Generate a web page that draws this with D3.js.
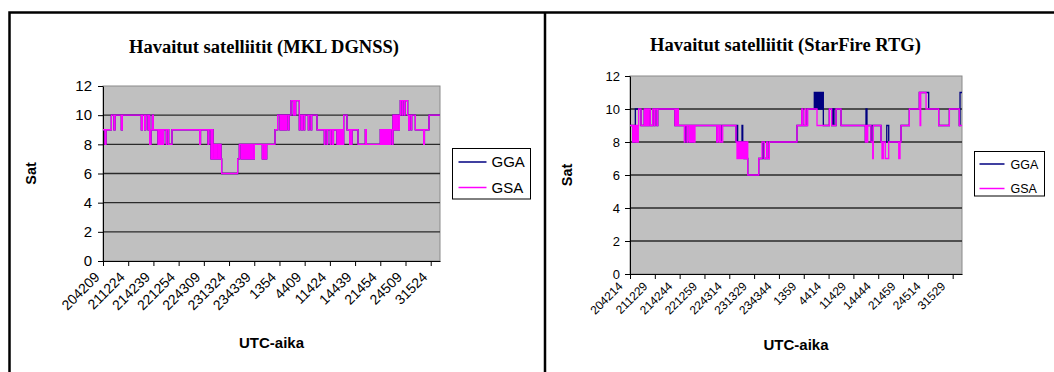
<!DOCTYPE html>
<html><head><meta charset="utf-8">
<script src="https://cdn.jsdelivr.net/npm/d3@7"></script>
<style>body{margin:0;background:#fff;overflow:hidden} svg{display:block}</style>
</head><body>
<svg id="c" width="1054" height="372"></svg>
<script>
// ---------- DATA ----------
const leftTitle = "Havaitut satelliitit (MKL DGNSS)";
const rightTitle = "Havaitut satelliitit (StarFire RTG)";
const yTitle = "Sat";
const xTitle = "UTC-aika";
const seriesNames = ["GGA", "GSA"];
const yTicks = [0, 2, 4, 6, 8, 10, 12];

const leftLabels = ["204209","211224","214239","221254","224309","231324","234339","1354","4409","11424","14439","21454","24509","31524"];
const rightLabels = ["204214","211229","214244","221259","224314","231329","234344","1359","4414","11429","14444","21459","24514","31529"];

// [minutes since first label, satellites]
const leftGsa = [[0,9],[2.4,8],[3.6,9],[10.0,10],[13.2,9],[14.4,10],[22.0,9],[23.2,10],[46.0,9],[47.2,10],[50.0,9],[51.2,10],[54.0,9],[55.2,10],[56.0,8],[57.6,9],[59.2,10],[60.4,9],[66.0,8],[67.0,9],[67.9,8],[68.9,9],[69.8,8],[70.8,9],[71.8,8],[72.7,9],[76.0,8],[76.8,9],[78.8,8],[82.8,9],[116.0,8],[117.0,9],[126.0,8],[127.0,9],[129.6,7],[130.8,9],[132.0,7],[133.6,8],[134.4,7],[135.6,8],[136.4,7],[138.0,8],[139.2,7],[140.4,8],[141.6,7],[142.4,6],[161.6,7],[163.6,8],[165.6,7],[167.0,8],[168.5,7],[169.9,8],[171.4,7],[172.8,8],[174.2,7],[175.7,8],[177.1,7],[178.6,8],[180.0,7],[181.6,8],[191.2,7],[192.0,8],[193.6,7],[194.4,8],[195.6,7],[196.4,8],[206.4,9],[209.6,10],[212.4,9],[213.6,10],[214.8,9],[216.0,10],[217.2,9],[218.4,10],[219.6,9],[220.4,10],[222.4,9],[223.2,10],[225.6,11],[228.4,10],[229.2,11],[230.4,10],[231.2,11],[235.6,9],[236.4,10],[238.4,9],[239.3,10],[241.2,9],[242.0,10],[246.4,9],[247.2,10],[249.6,9],[250.4,10],[256.8,9],[265.6,8],[266.4,9],[268.8,8],[269.6,9],[272.8,8],[273.6,9],[275.6,8],[276.5,9],[280.8,8],[282.0,9],[283.2,8],[284.4,9],[285.6,8],[286.8,9],[288.0,8],[288.8,10],[292.8,9],[296.0,8],[296.9,9],[298.0,8],[298.8,9],[306.0,8],[314.8,9],[316.0,8],[332.8,9],[334.0,8],[335.2,9],[336.4,8],[337.6,9],[338.8,8],[340.0,9],[341.2,8],[342.4,9],[343.6,8],[344.8,9],[346.8,8],[348.0,10],[349.2,9],[350.4,10],[351.6,9],[352.8,10],[354.0,9],[355.6,10],[356.8,11],[358.8,10],[359.6,11],[361.6,10],[362.4,11],[365.6,10],[366.8,9],[367.7,10],[369.6,9],[370.4,10],[374.8,9],[384.8,8],[385.7,9],[391.2,10],[404.4,10]];
const leftGga = leftGsa; // identical in the reference (hidden under GSA)

const rightGsa = [[0,9],[3.3,8],[4.3,9],[5.2,8],[6.2,9],[7.2,8],[8.2,9],[9.1,8],[10.1,9],[10.6,10],[13.4,9],[17.4,10],[18.3,9],[19.3,10],[20.2,9],[21.2,10],[22.2,9],[23.0,10],[24.7,9],[27.7,10],[29.6,9],[30.5,10],[32.9,9],[33.8,10],[54.8,9],[55.8,10],[56.8,9],[57.8,10],[58.9,9],[66.2,8],[67.0,9],[69.5,8],[70.3,9],[72.3,8],[73.3,9],[74.2,8],[75.2,9],[76.2,8],[77.2,9],[78.4,8],[79.2,9],[105.7,8],[106.6,9],[108.5,8],[109.4,9],[110.9,8],[113.0,9],[129.2,8],[130.4,7],[131.4,8],[132.4,7],[133.3,8],[134.3,7],[135.3,8],[136.3,7],[137.2,8],[138.2,7],[139.2,8],[140.2,7],[141.1,8],[142.1,7],[143.1,8],[143.5,6],[156.9,7],[160.9,8],[163.7,7],[166.6,8],[167.6,7],[169.8,8],[203.5,9],[209.3,10],[210.5,9],[213.3,10],[214.5,9],[216.6,10],[227.9,9],[242.9,10],[245.8,9],[251.1,10],[257.2,9],[286.8,8],[287.6,9],[288.8,8],[289.7,9],[293.7,8],[295.8,7],[296.5,9],[305.9,8],[307.1,7],[308.7,8],[311.1,7],[315.3,8],[327.5,7],[329.1,8],[330.3,9],[340.4,10],[352.6,11],[353.5,9],[354.3,11],[360.8,10],[376.2,9],[389.2,10],[401.3,9],[404.6,9]];
const rightGga = [[0,9],[3.3,8],[4.3,9],[5.2,8],[6.5,10],[13.4,9],[17.4,10],[18.3,9],[19.3,10],[20.2,9],[21.2,10],[22.2,9],[23.0,10],[24.7,9],[27.7,10],[29.6,9],[30.5,10],[32.9,9],[33.8,10],[54.8,9],[55.8,10],[56.8,9],[57.8,10],[58.9,9],[67.4,8],[68.3,9],[72.3,8],[73.3,9],[74.2,8],[75.2,9],[76.2,8],[77.2,9],[105.7,8],[106.6,9],[110.5,8],[111.4,9],[129.2,8],[130.4,9],[131.2,8],[136.5,9],[137.4,8],[139.0,7],[140.2,8],[141.4,7],[143.5,6],[156.9,7],[161.8,8],[163.7,7],[166.6,8],[167.6,7],[169.8,8],[203.5,9],[209.3,10],[210.5,9],[215.7,10],[224.6,11],[225.6,10],[226.6,11],[227.6,10],[228.5,11],[229.5,10],[230.5,11],[231.5,10],[232.4,11],[233.4,10],[234.4,11],[235.6,9],[242.9,10],[245.8,9],[247.4,10],[248.6,9],[251.1,10],[257.2,9],[286.8,8],[287.6,10],[288.8,9],[293.7,8],[294.9,9],[305.9,8],[312.9,9],[315.3,8],[330.3,9],[340.4,10],[352.6,11],[364.0,10],[376.2,9],[389.2,10],[401.3,9],[402.2,11],[404.6,11]];

// ---------- HELPERS ----------
function labelMinutes(labels) {
  const secs = labels.map(s => {
    const p = s.padStart(6, "0");
    return (+p.slice(0,2))*3600 + (+p.slice(2,4))*60 + (+p.slice(4,6));
  });
  return secs.map(s => ((s - secs[0] + 86400) % 86400) / 60);
}

const svg = d3.select("#c");
const FONT = "'Liberation Sans', Arial, sans-serif";
const SERIF = "'Liberation Serif', 'Times New Roman', serif";

// outer frames
svg.append("path")
  .attr("d", "M9.5,380V12.5H1060M545,12.5V380")
  .attr("fill", "none").attr("stroke", "#000").attr("stroke-width", 2.5);

function chart(o) {
  const g = svg.append("g");
  const end = o.gsa[o.gsa.length - 1][0];
  const x = d3.scaleLinear().domain([0, end]).range([o.left, o.right]);
  const y = d3.scaleLinear().domain([0, 12]).range([o.bottom, o.top]);

  g.append("rect").attr("x", o.left).attr("y", o.top)
    .attr("width", o.right - o.left).attr("height", o.bottom - o.top)
    .attr("fill", "#c0c0c0").attr("stroke", "#8a8a8a").attr("stroke-width", 1);

  g.selectAll(".grid").data(yTicks.filter(d => d > 0 && d < 12)).join("line")
    .attr("x1", o.left).attr("x2", o.right)
    .attr("y1", d => y(d)).attr("y2", d => y(d))
    .attr("stroke", "#2a2a2a").attr("stroke-width", 1.4);

  // y axis
  const ya = g.append("g").attr("transform", `translate(${o.left},0)`)
    .call(d3.axisLeft(y).tickValues(yTicks).tickSize(5).tickSizeOuter(0).tickPadding(o.yPad));
  ya.select(".domain").attr("stroke", "#000");
  ya.selectAll(".tick line").attr("stroke", "#000");
  ya.selectAll("text").attr("font-family", FONT).attr("font-size", o.yFs).attr("fill", "#000");

  // x axis
  const ticks = labelMinutes(o.labels);
  const xa = g.append("g").attr("transform", `translate(0,${o.bottom})`)
    .call(d3.axisBottom(x).tickValues(ticks).tickFormat((d, i) => o.labels[i]).tickSize(5).tickSizeOuter(0));
  xa.select(".domain").attr("stroke", "#000");
  xa.selectAll(".tick line").attr("stroke", "#000");
  xa.selectAll("text")
    .attr("font-family", FONT).attr("font-size", o.xFs).attr("fill", "#000")
    .attr("x", 0).attr("y", 0).attr("dy", 0)
    .attr("text-anchor", "end")
    .attr("transform", `translate(${o.lblDx},${o.lblDy}) rotate(-45)`);

  // series
  const line = d3.line().x(d => x(d[0])).y(d => y(d[1])).curve(d3.curveStepAfter);
  const clipId = "clip" + o.id;
  g.append("clipPath").attr("id", clipId).append("rect")
    .attr("x", o.left).attr("y", o.top - 2).attr("width", o.right - o.left).attr("height", o.bottom - o.top + 4);
  const lines = g.append("g").attr("clip-path", `url(#${clipId})`);
  lines.append("path").datum(o.gga).attr("d", line)
    .attr("fill", "none").attr("stroke", "#000080").attr("stroke-width", 1.3);
  lines.append("path").datum(o.gsa).attr("d", line)
    .attr("fill", "none").attr("stroke", "#ff00ff").attr("stroke-width", 1.3);

  // titles
  g.append("text").attr("x", o.titleX).attr("y", o.titleY).attr("text-anchor", "middle")
    .attr("font-family", SERIF).attr("font-weight", "bold").attr("font-size", o.titleFs)
    .text(o.title);
  g.append("text").attr("transform", `translate(${o.satX},${(o.top + o.bottom) / 2}) rotate(-90)`)
    .attr("text-anchor", "middle").attr("dy", "0.35em")
    .attr("font-family", FONT).attr("font-weight", "bold").attr("font-size", 14.5)
    .text(yTitle);
  g.append("text").attr("x", (o.left + o.right) / 2).attr("y", o.xTitleY).attr("text-anchor", "middle")
    .attr("font-family", FONT).attr("font-weight", "bold").attr("font-size", 15)
    .text(xTitle);

  // legend
  const L = o.legend;
  g.append("rect").attr("x", L.x).attr("y", L.y).attr("width", L.w).attr("height", L.h)
    .attr("fill", "#fff").attr("stroke", "#000").attr("stroke-width", 1);
  const colors = ["#000080", "#ff00ff"];
  seriesNames.forEach((n, i) => {
    const ly = L.y + L.row0 + i * L.rowH;
    g.append("line").attr("x1", L.x + L.lx0).attr("x2", L.x + L.lx1).attr("y1", ly).attr("y2", ly)
      .attr("stroke", colors[i]).attr("stroke-width", 1.5);
    g.append("text").attr("x", L.x + L.tx).attr("y", ly).attr("dy", "0.36em")
      .attr("font-family", FONT).attr("font-size", L.fs).text(n);
  });
}

chart({
  id: "L", left: 103, right: 440, top: 86, bottom: 261,
  labels: leftLabels, gsa: leftGsa, gga: leftGga,
  yFs: 15, yPad: 6, xFs: 14, lblDx: -3, lblDy: 17,
  title: leftTitle, titleX: 264, titleY: 53, titleFs: 18.5,
  satX: 31, xTitleY: 348,
  legend: {x: 452.5, y: 148.5, w: 78, h: 50.5, row0: 13.5, rowH: 25.5, lx0: 6, lx1: 34, tx: 39, fs: 15}
});
chart({
  id: "R", left: 630, right: 962, top: 76, bottom: 274,
  labels: rightLabels, gsa: rightGsa, gga: rightGga,
  yFs: 13, yPad: 5, xFs: 12, lblDx: -7, lblDy: 13,
  title: rightTitle, titleX: 785.5, titleY: 51, titleFs: 18.5,
  satX: 567, xTitleY: 350,
  legend: {x: 974.5, y: 151.5, w: 70, h: 44.5, row0: 12.5, rowH: 24.5, lx0: 5, lx1: 30, tx: 36, fs: 12.5}
});
</script>
</body></html>
